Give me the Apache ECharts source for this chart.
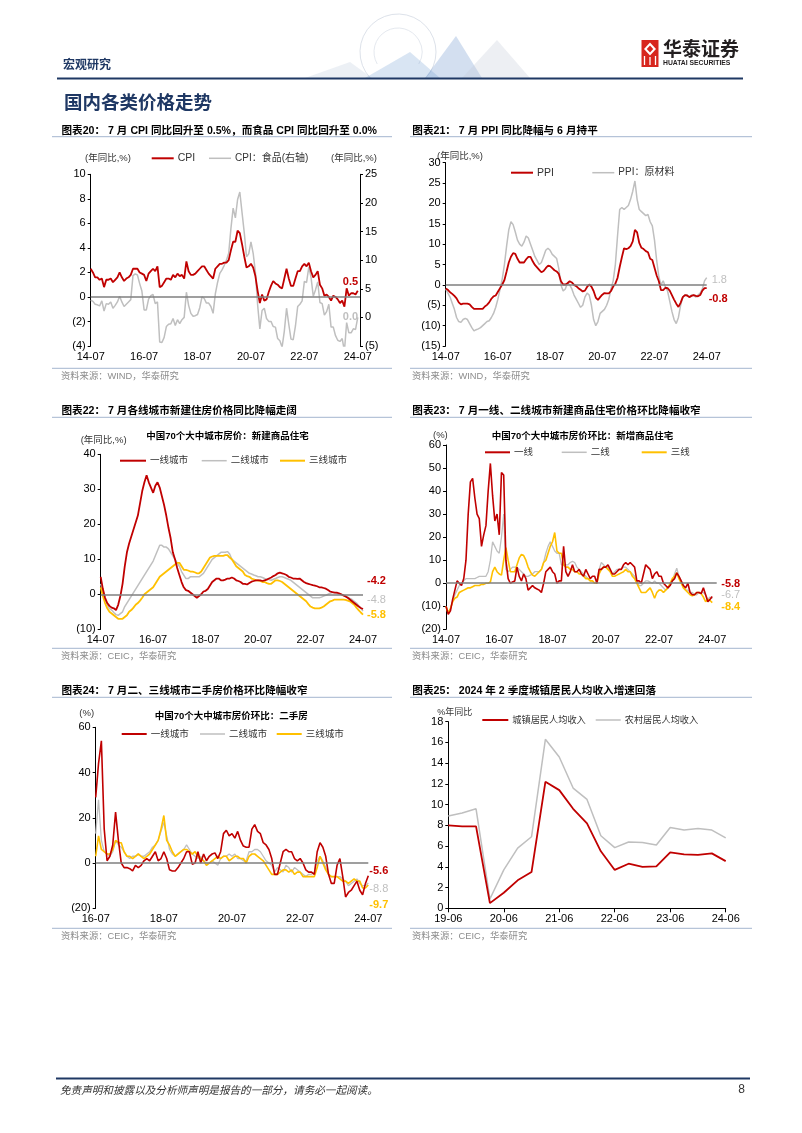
<!DOCTYPE html>
<html><head><meta charset="utf-8">
<script src="https://cdn.jsdelivr.net/npm/echarts@6/dist/echarts.min.js"></script>
<style>html,body{margin:0;padding:0;background:#fff}#c{width:802px;height:1133px}</style>
</head><body><div id="c"></div>
<script>
// ===== DATA =====
// Chart 20: CPI yoy (left) and food CPI yoy (right), 2014-07 .. 2024-07
const cpi = [
2.3,2.0,1.6,1.6,1.4,1.5,
0.8,1.4,1.4,1.5,1.2,1.4,1.6,2.0,1.6,1.3,1.5,1.6,
1.8,2.3,2.3,2.3,2.0,1.9,1.8,1.3,1.9,2.1,2.3,2.1,
2.5,0.8,0.9,1.2,1.5,1.5,1.4,1.8,1.6,1.9,1.7,1.8,
1.5,2.9,2.1,1.8,1.8,1.9,2.1,2.3,2.5,2.5,2.2,1.9,
1.7,1.5,2.3,2.5,2.7,2.7,2.8,2.8,3.0,3.8,4.5,4.5,
5.4,5.2,4.3,3.3,2.4,2.5,2.7,2.4,1.7,0.5,-0.5,0.2,
-0.3,-0.2,0.4,0.9,1.3,1.1,1.0,0.8,0.7,1.5,2.3,1.5,
0.9,0.9,1.5,2.1,2.1,2.5,2.7,2.5,2.8,2.1,1.6,1.8,
2.1,1.0,0.7,0.1,0.2,0.0,-0.3,0.1,0.0,-0.2,-0.5,-0.3,
-0.8,0.7,0.1,0.3,0.3,0.2,0.5];
const cpiFood = [
3.0,2.8,2.3,2.2,2.0,2.9,
1.1,2.4,2.3,2.7,1.6,2.1,2.7,3.7,2.7,1.9,2.3,2.7,
3.1,7.3,7.6,7.4,5.9,4.6,1.3,1.3,3.2,3.8,4.0,2.4,
2.7,-4.3,-4.4,-3.5,-1.6,-1.2,-1.1,-0.2,-1.4,-0.4,-1.1,-0.4,
0.0,4.4,2.1,0.7,0.2,0.3,0.5,1.7,3.6,3.3,2.5,2.5,
1.9,0.7,4.1,6.1,7.7,8.3,9.1,10.0,11.2,15.5,19.1,17.4,
20.6,21.9,18.3,14.8,10.6,11.1,13.2,11.2,7.9,2.2,-2.0,1.2,
1.6,-0.2,-0.7,-0.7,-1.6,-1.7,-3.7,-4.1,-5.2,-2.4,1.6,-1.2,
-3.8,-3.9,-1.5,1.9,2.3,2.9,6.3,6.1,8.8,7.0,3.7,4.8,
6.2,2.6,2.4,0.4,1.0,2.3,-1.7,-1.7,-3.2,-4.0,-4.2,-3.7,
-5.9,-0.9,-2.7,-2.7,-2.0,-2.1,0.0];

// Chart 21: PPI yoy and PPI raw materials yoy, 2014-07 .. 2024-07
const ppi = [
-0.9,-1.2,-1.8,-2.2,-2.7,-3.3,
-4.3,-4.8,-4.6,-4.6,-4.6,-4.8,-5.4,-5.9,-5.9,-5.9,-5.9,-5.9,
-5.3,-4.9,-4.3,-3.4,-2.8,-2.6,-1.7,-0.8,0.1,1.2,3.3,5.5,
6.9,7.8,7.6,6.4,5.5,5.5,5.5,6.3,6.9,6.9,5.8,4.9,
4.3,3.7,3.1,3.4,4.1,4.7,4.6,4.1,3.6,3.3,2.7,0.9,
0.1,0.1,0.4,0.9,0.6,0.0,-0.3,-0.8,-1.2,-1.6,-1.4,-0.5,
0.1,-0.4,-1.5,-3.1,-3.7,-3.0,-2.4,-2.0,-2.1,-2.1,-1.5,-0.4,
0.3,1.7,4.4,6.8,9.0,8.8,9.0,9.5,10.7,13.5,12.9,10.3,
9.1,8.8,8.3,8.0,6.4,6.1,4.2,2.3,0.9,-1.3,-1.3,-0.7,
-0.8,-1.4,-2.5,-3.6,-4.6,-5.4,-4.4,-3.0,-2.5,-2.6,-3.0,-2.7,
-2.5,-2.7,-2.8,-2.5,-1.4,-0.8,-0.8];
const ppiRaw = [
-1.0,-2.0,-3.0,-4.5,-6.0,-8.0,
-9.0,-9.2,-8.5,-8.2,-8.5,-9.5,-10.5,-11.3,-11.0,-10.8,-10.5,-10.0,
-9.5,-9.0,-8.8,-8.0,-7.0,-5.5,-3.5,-1.0,1.5,5.0,9.5,13.5,
15.5,14.8,13.0,11.0,10.0,9.5,10.5,12.0,11.5,10.0,8.5,7.0,
6.0,5.0,5.5,7.0,8.5,9.0,8.5,7.5,7.0,6.5,4.0,0.0,
-1.5,-1.0,0.5,0.0,-1.0,-2.5,-3.5,-4.5,-5.5,-5.0,-3.0,-2.0,
-2.5,-5.0,-8.5,-10.0,-9.0,-7.0,-6.5,-6.0,-5.0,-3.5,-1.0,1.0,
5.0,12.0,18.5,19.0,18.5,19.0,19.5,21.0,23.0,25.5,21.0,18.5,
18.0,17.5,17.0,17.3,15.5,14.5,11.0,6.0,2.0,0.0,1.0,-0.5,
-1.5,-4.0,-6.5,-8.5,-9.5,-8.0,-5.0,-3.0,-2.5,-2.5,-3.0,-2.5,
-2.5,-3.0,-2.5,-2.0,-1.0,1.0,1.8];

// Chart 22: new home price yoy by tier, 2014-07 .. 2024-07
const newTier1 = [
5.0,1.5,-1.0,-2.5,-3.3,-3.8,
-4.0,-4.5,-3.0,-0.5,3.0,8.0,12.0,14.5,16.5,18.5,20.5,22.5,
26.0,29.5,32.0,34.0,32.0,30.5,29.0,31.0,32.0,30.5,28.0,25.5,
22.5,19.0,16.0,12.0,10.0,7.5,5.5,3.5,2.0,1.2,1.0,0.5,
0.0,-0.5,-1.0,-0.5,0.0,0.8,1.0,1.5,2.5,3.5,4.0,4.5,
4.5,4.0,4.0,4.2,4.5,4.5,4.8,4.5,4.0,3.8,3.5,3.0,
3.0,2.8,3.2,3.6,3.8,4.0,4.0,4.0,3.8,4.0,4.2,4.5,
4.8,5.2,5.5,6.0,6.2,6.0,5.8,5.5,5.0,4.8,4.5,4.5,
4.4,4.5,4.0,3.5,3.2,3.0,2.8,2.6,2.5,2.3,2.0,2.0,
1.8,1.6,1.2,0.8,0.6,0.5,0.5,0.3,0.0,-0.3,-0.6,-1.0,
-1.5,-2.0,-2.5,-3.0,-3.5,-3.9,-4.2];
const newTier2 = [
3.0,0.5,-1.5,-3.0,-4.0,-4.5,
-5.2,-5.8,-6.0,-5.5,-5.0,-3.5,-2.5,-1.5,-0.5,0.5,1.5,2.5,
3.5,4.5,5.5,6.5,7.5,8.5,9.5,11.0,12.5,14.0,14.0,13.5,
13.5,13.0,12.0,11.0,10.0,9.0,8.0,6.5,5.5,4.5,4.5,5.0,
5.0,5.0,5.0,5.0,5.5,6.0,7.0,8.0,9.0,10.0,10.5,11.0,
11.5,12.0,12.0,12.0,12.2,11.5,10.0,9.5,9.0,8.5,8.0,7.5,
7.0,6.5,6.0,5.8,5.5,5.3,5.0,5.0,4.8,4.5,4.3,4.2,
4.0,4.3,4.5,4.8,5.0,5.0,4.8,4.5,4.3,4.0,3.5,3.0,
2.5,2.0,1.5,1.0,0.5,0.0,-0.5,-1.0,-1.0,-1.0,-1.0,-0.8,
-0.5,-0.3,0.0,0.3,0.5,0.5,0.3,0.0,0.0,-0.3,-0.5,-0.8,
-1.2,-1.5,-2.0,-2.5,-3.2,-4.0,-4.8];
const newTier3 = [
2.0,-0.5,-2.5,-4.0,-5.0,-5.5,
-6.0,-6.5,-7.0,-7.0,-7.0,-6.5,-6.0,-5.0,-4.5,-3.8,-3.0,-2.5,
-1.8,-1.0,0.0,0.5,1.0,1.5,2.0,3.0,4.0,5.0,5.5,6.0,
6.5,7.0,7.5,8.0,8.5,9.0,9.0,8.0,7.0,7.0,6.8,6.5,
6.5,6.3,6.0,6.0,6.5,7.5,8.5,9.5,10.5,10.8,11.0,11.0,
11.0,11.0,11.0,11.2,11.2,10.5,10.0,9.0,8.0,7.5,7.0,6.5,
5.5,5.2,5.0,4.5,4.3,4.0,4.0,3.8,3.5,3.5,3.2,3.0,
3.0,3.5,4.0,4.0,3.8,3.5,3.0,2.5,2.0,1.5,1.0,0.5,
0.0,-0.5,-1.0,-1.5,-2.0,-2.8,-3.5,-3.8,-4.0,-4.0,-4.0,-3.8,
-3.5,-3.0,-2.5,-2.0,-1.8,-1.5,-1.5,-1.5,-1.5,-1.5,-1.6,-1.8,
-2.0,-2.5,-3.0,-3.8,-4.5,-5.2,-5.8];

// Chart 23: new home price mom (annualised), 2014-07 .. 2024-07
const momNew1 = [
-10,-13.5,-12,-7,-3,1,0,-1,2,10,
30,44,45.5,37,30,28,16,21,25,40,
52,38,27,30,21,48,47,10,2,0,
0.5,1,7,3,1,4,2,-3,-2,-1,
-2,-2.5,-3,-4,0,5,6,7,5,4,
0,1,1,16,5,3,5,8,5,5,
6,4,3,6,4,2,3,3,0,6,
6,7,7,8,6,4,4,5,6,6,
8,9,8,9,8,7,1,1,0,4,
8,7,6,2,4,5,3,3,0,-1,
-2,-1,1,2,4.5,3,1,-1,-2,0,
-4,-5,-5,-4,-4,-4.5,-2,-5,-8,-7,
-5.8];
const momNew2 = [
-10,-12.5,-11,-8,-5,-3,-1,0,1,2,
2,2,2,2,2.5,3,3,3,3,5,
10,18,16,14,13,20,30,6,5,6,
7,7,7,6,5,4,3,3,3.5,4,
5,5,5,6,9,13,16,18,16,14,
13,13,8,8,8,8,9,9.5,9,7,
6,5,4,3,2,1,1,0,0.5,6,
9,8,7,7,5,4,5,6,6,6,
7,7,6,5,4,3,1,-1,-1,0,
1,1,0.5,0,1,0,0,-1,-2,-3,
-2,-1,1,4,6.5,3,1,-2,-3,-3,
-4,-4,-5,-5,-4,-4,-4,-5,-7,-6,
-6.7];
const momNew3 = [
-10,-13,-11,-8,-6.5,-6,-4,-3.5,-3,-2.5,
-2,-2,-1.5,-1,-1,-1,-0.5,-0.5,0,0,
0.5,5,7,5,4,3.5,10,15.5,10,5,
5,5,8,11,12.5,12,10,7,5,3.5,
3,4,5,6,9,10,13,16,18,22,
14,13,13,8,7,7,6,6,5,5,
4,4,3,2,2,1,1,0,0,4,
6,7,7,6,5,3,3,3.5,4,4.5,
5,6,5,5,3,2,0,-2,-4,-4,
-4,-3,-2,-4,-6.5,-4,-3,-3,-4,-3,
-2,0,2,3,4.5,2,0,-2,-3,-4,
-5,-5.5,-5,-4,-4,-4.5,-6,-8,-7,-7.5,
-8.4];

// Chart 24: second-hand home price mom (annualised), 2016-07 .. 2024-07
const momOld1 = [
29,44,54,15,1,3,8,22.5,10,0,
-2,-2,-2.5,-3.5,-1,-2,-1,1,2,1,
3,5,1,2,5,2,-3,-3.5,-3.5,-2,
0,2,5,5,-0.5,0,5,0,4,1,
3,4,4.5,2,5,13,14.5,12,13,11,
14,10,7.5,7,7,15,17,14,13,9,
8,6,2,-5,-5,0,5,6,5,5,
2,1,2,0,-3,-4,-4,-5,5,9,
7,3,-5,-9,-9,-1,2,-6,-15,-13,
-12,-10,-8,-12,-14,-9,-5.6];
const momOld2 = [
13,28,10,5,4,3,5,10,8,7,
5,3,2,3,3,4,3,3,4,5,
7,8,10,14,18,12,6,4,3,4,
5,6,8,6,4,3,2,3,1,0,
0,1,0,-1,2,3,3,4,3,4,
2,2,1,1,5,5,6,6,5,3,
1,0,-1,-4,-2,-3,-4,-1,-2,-4,
-2,-3,-4,-5,-6,-5,-5,-4,1,3,
1,-2,-5,-6,-6,-6,-6,-7,-8,-10,
-9,-8,-7,-9,-10,-10,-8.8];
const momOld3 = [
3,12,6,5,4,4,6,10,9,9,
5,3,3,2,3,4,3,2,3,4,
6,8,10,15,21,10,8,5,3,4,
5,6,6,5,4,5,3,2,1,-1,
0,1,2,3,2,3,3,1,2,3,
3,2,2,0,3,4,4,3,2,1,
-1,-3,-5,-5,-5,-4,-3,-3,-4,-3,
-5,-4,-4,-6,-6,-6,-6,-6,-2,3,
0,-3,-5,-6,-6,-6,-7,-8,-8,-9,
-8,-7,-8,-8,-11,-11,-9.7];

// Chart 25: per-capita disposable income yoy, quarterly 2019-06 .. 2024-06
const incomeUrban = [8.0,7.9,7.9,0.5,1.5,2.7,3.5,12.2,11.4,9.6,8.2,5.5,3.7,4.3,4.0,4.05,5.4,5.2,5.15,5.3,4.55];
const incomeRural = [8.9,9.2,9.6,0.9,3.7,5.8,6.9,16.3,14.6,11.6,10.5,7.0,5.85,6.4,6.35,6.1,7.8,7.55,7.7,7.55,6.8];

// Categories (month labels YY-MM)
function monthRange(y0, m0, y1, m1, step) {
  const out = []; let y = y0, m = m0;
  while (y < y1 || (y === y1 && m <= m1)) {
    out.push(String(y % 100).padStart(2, '0') + '-' + String(m).padStart(2, '0'));
    m += step; while (m > 12) { m -= 12; y++; }
  }
  return out;
}
const months20 = monthRange(2014, 7, 2024, 8, 1);   // one trailing empty month
const months21 = monthRange(2014, 7, 2024, 7, 1);
const months22 = monthRange(2014, 7, 2024, 7, 1);
const months23 = monthRange(2014, 7, 2024, 9, 1);   // two trailing empty months
const months24 = monthRange(2016, 7, 2024, 7, 1);
const quarters25 = monthRange(2019, 6, 2024, 6, 3);

// ===== BUILD =====
const FF = 'Arial, "Liberation Sans", "Noto Sans CJK SC", sans-serif';
const FC = '"Noto Sans CJK SC", Arial, sans-serif';
const RED = '#C00000', GRAY = '#BFBFBF', YEL = '#FFC000', ZERO = '#7F7F7F', NAVY = '#1F3864', RULE = '#A4B6CF';
const grids = [], xAxes = [], yAxes = [], series = [], legends = [], G = [];

function neg(v) { return v < 0 ? '(' + (-v) + ')' : String(v); }
function addGrid(l, t, w, h) { grids.push({ left: l, top: t, width: w, height: h, containLabel: false, outerBoundsMode: 'none' }); return grids.length - 1; }
function catAxis(gi, cats, every, extra) {
  xAxes.push(Object.assign({
    type: 'category', gridIndex: gi, data: cats, boundaryGap: false,
    axisLine: { show: false }, axisTick: { show: false },
    axisLabel: { interval: (i) => i % every === 0, color: '#000', fontSize: 11, fontFamily: FF, margin: 5 }
  }, extra || {}));
  return xAxes.length - 1;
}
function valAxis(gi, min, max, interval, pos) {
  yAxes.push({
    type: 'value', gridIndex: gi, min, max, interval, position: pos,
    axisLine: { show: true, lineStyle: { color: '#000', width: 1 } },
    axisTick: { show: true, length: 3, lineStyle: { color: '#000' } },
    splitLine: { show: false },
    axisLabel: { formatter: neg, color: '#000', fontSize: 11, fontFamily: FF, margin: 5 }
  });
  return yAxes.length - 1;
}
function endLbl(color, off, bold) {
  return { show: true, formatter: p => { const v = Array.isArray(p.value) ? p.value[1] : p.value; return Number(v).toFixed(1); },
    color, fontSize: 11, fontWeight: bold === false ? 'normal' : 'bold', fontFamily: FF, distance: 0, offset: off };
}
const zeroLine = { silent: true, symbol: 'none', label: { show: false }, lineStyle: { color: ZERO, width: 1.5, type: 'solid' }, data: [{ yAxis: 0 }], animation: false };
function line(name, xi, yi, data, color, width, z, extra) {
  series.push(Object.assign({ type: 'line', name, xAxisIndex: xi, yAxisIndex: yi, data, symbol: 'none', showSymbol: false,
    lineStyle: { color, width }, itemStyle: { color }, z, animation: false }, extra || {}));
}
function leg(name, left, cy, w, h, fs) {
  legends.push({ data: [name], left, top: cy - 7, itemWidth: w, itemHeight: h, icon: 'rect', padding: 0, itemGap: 0, selectedMode: false,
    textStyle: { fontSize: fs || 9.5, color: '#333', fontFamily: FF, lineHeight: 14, padding: [0, 0, 0, -1] } });
}
function T(x, y, text, o) { G.push({ type: 'text', x, y, silent: true, style: Object.assign({ text, fill: '#000', fontSize: 10, fontFamily: FF, align: 'left', verticalAlign: 'middle' }, o || {}) }); }
function L(x1, y1, x2, y2, stroke, w) { G.push({ type: 'line', silent: true, shape: { x1, y1, x2, y2 }, style: { stroke, lineWidth: w } }); }

// ---- Chart 20 ----
{
  const g = addGrid(90.7, 174.3, 269.3, 171.7);
  const x = catAxis(g, months20, 24);
  const yl = valAxis(g, -4, 10, 2, 'left');
  const yr = valAxis(g, -5, 25, 5, 'right');
  line('CPI：食品(右轴)', x, yr, cpiFood, GRAY, 1.5, 2, { endLabel: endLbl(GRAY, [-15, 0]) });
  line('CPI', x, yl, cpi, RED, 1.8, 3, { endLabel: endLbl(RED, [-15, -9]), markLine: zeroLine });
  leg('CPI', 151.7, 158.3, 22, 2, 10.5);
  leg('CPI：食品(右轴)', 209, 158.3, 22, 1.5, 10);
  T(85, 158.3, '(年同比,%)', { fontSize: 9.5, fill: '#333' });
  T(331, 158.3, '(年同比,%)', { fontSize: 9.5, fill: '#333' });
}
// ---- Chart 21 ----
{
  const g = addGrid(445.7, 162.7, 261, 183.3);
  const x = catAxis(g, months21, 24);
  const y = valAxis(g, -15, 30, 5, 'left');
  line('PPI：原材料', x, y, ppiRaw, GRAY, 1.5, 2, { endLabel: endLbl(GRAY, [5, 2], false) });
  line('PPI', x, y, ppi, RED, 1.8, 3, { endLabel: endLbl(RED, [2, 11]), markLine: zeroLine });
  leg('PPI', 511, 172.7, 22, 2, 10.5);
  leg('PPI：原材料', 592.3, 172.7, 22, 1.5, 10);
  T(437, 156, '(年同比,%)', { fontSize: 9.5, fill: '#333' });
}
// ---- Chart 22 ----
{
  const g = addGrid(100.7, 454.3, 262.3, 175);
  const x = catAxis(g, months22, 24);
  const y = valAxis(g, -10, 40, 10, 'left');
  line('二线城市', x, y, newTier2, GRAY, 1.5, 2, { endLabel: endLbl(GRAY, [4, -11], false), markLine: zeroLine });
  line('三线城市', x, y, newTier3, YEL, 1.8, 3, { endLabel: endLbl(YEL, [4, 0]) });
  line('一线城市', x, y, newTier1, RED, 1.8, 4, { endLabel: endLbl(RED, [4, -28]) });
  leg('一线城市', 120, 460.7, 26, 2);
  leg('二线城市', 201.7, 460.7, 25, 1.5);
  leg('三线城市', 280, 460.7, 25, 2);
  T(80.7, 440.7, '(年同比,%)', { fontSize: 9.5, fill: '#333' });
  T(227.5, 436, '中国70个大中城市房价：新建商品住宅', { fontSize: 9.5, fontWeight: 'bold', align: 'center' });
}
// ---- Chart 23 ----
{
  const g = addGrid(446, 445, 270.7, 184.3);
  const x = catAxis(g, months23, 24);
  const y = valAxis(g, -20, 60, 10, 'left');
  line('二线', x, y, momNew2, GRAY, 1.3, 2, { endLabel: endLbl(GRAY, [9, -4], false), markLine: zeroLine });
  line('三线', x, y, momNew3, YEL, 1.6, 3, { endLabel: endLbl(YEL, [9, 4]) });
  line('一线', x, y, momNew1, RED, 1.6, 4, { endLabel: endLbl(RED, [9, -13]) });
  leg('一线', 485, 452.3, 25, 2);
  leg('二线', 561.7, 452.3, 25, 1.5);
  leg('三线', 641.7, 452.3, 25, 2);
  T(433, 435, '(%)', { fontSize: 9.5, fill: '#333' });
  T(582.5, 436, '中国70个大中城市房价环比：新增商品住宅', { fontSize: 9.5, fontWeight: 'bold', align: 'center' });
}
// ---- Chart 24 ----
{
  const g = addGrid(95.7, 727.3, 272.6, 181);
  const x = catAxis(g, months24, 24);
  const y = valAxis(g, -20, 60, 20, 'left');
  line('二线城市', x, y, momOld2, GRAY, 1.3, 2, { endLabel: endLbl(GRAY, [1, 6], false), markLine: zeroLine });
  line('三线城市', x, y, momOld3, YEL, 1.6, 3, { endLabel: endLbl(YEL, [1, 20]) });
  line('一线城市', x, y, momOld1, RED, 1.6, 4, { endLabel: endLbl(RED, [1, -5]) });
  leg('一线城市', 121.7, 734, 25, 2);
  leg('二线城市', 200, 734, 25, 1.5);
  leg('三线城市', 276.7, 734, 25, 2);
  T(79.3, 713, '(%)', { fontSize: 9.5, fill: '#333' });
  T(231.3, 716, '中国70个大中城市房价环比：二手房', { fontSize: 9.5, fontWeight: 'bold', align: 'center' });
}
// ---- Chart 25 ----
{
  const g = addGrid(448.3, 721.7, 277.4, 186.6);
  const x = catAxis(g, quarters25, 4, {
    axisLine: { show: true, lineStyle: { color: '#000', width: 1 } },
    axisTick: { show: true, interval: 3, length: 4, lineStyle: { color: '#000' } }
  });
  const y = valAxis(g, 0, 18, 2, 'left');
  line('农村居民人均收入', x, y, incomeRural, GRAY, 1.5, 2);
  line('城镇居民人均收入', x, y, incomeUrban, RED, 1.8, 3);
  leg('城镇居民人均收入', 482.3, 720, 26, 2, 9.2);
  leg('农村居民人均收入', 595.7, 720, 25, 1.5, 9.2);
  T(437.3, 712.5, '%年同比', { fontSize: 9, fill: '#333' });
}

// ---- Page furniture ----
// header decoration
G.push({ type: 'arc', silent: true, shape: { cx: 398, cy: 52, r: 38, startAngle: 137 * Math.PI / 180, endAngle: 403 * Math.PI / 180, clockwise: true }, style: { stroke: '#dde2ea', lineWidth: 1, fill: null } });
G.push({ type: 'arc', silent: true, shape: { cx: 398, cy: 52, r: 24, startAngle: 150 * Math.PI / 180, endAngle: 390 * Math.PI / 180, clockwise: true }, style: { stroke: '#e5e9ef', lineWidth: 1, fill: null } });
G.push({ type: 'polygon', silent: true, shape: { points: [[305, 78], [350, 62], [372, 78]] }, style: { fill: 'rgba(180,195,215,0.25)' } });
G.push({ type: 'polygon', silent: true, shape: { points: [[365, 78], [410, 52], [440, 78]] }, style: { fill: 'rgba(130,170,215,0.3)' } });
G.push({ type: 'polygon', silent: true, shape: { points: [[425, 78], [456, 36], [482, 78]] }, style: { fill: 'rgba(110,150,205,0.3)' } });
G.push({ type: 'polygon', silent: true, shape: { points: [[462, 78], [497, 40], [530, 78]] }, style: { fill: 'rgba(195,203,214,0.3)' } });
// logo
G.push({ type: 'rect', silent: true, shape: { x: 641.5, y: 40, width: 17, height: 27 }, style: { fill: '#D7261E' } });
G.push({ type: 'polygon', silent: true, shape: { points: [[650, 42.5], [656, 49], [650, 55.5], [644, 49]] }, style: { fill: '#fff' } });
G.push({ type: 'polygon', silent: true, shape: { points: [[650, 45.5], [653.2, 49], [650, 52.5], [646.8, 49]] }, style: { fill: '#D7261E' } });
L(644.5, 56, 644.5, 65, '#fff', 1.3); L(650, 57, 650, 65, '#fff', 1.3); L(655.5, 56, 655.5, 65, '#fff', 1.3);
T(663, 48.5, '华泰证券', { fontSize: 19, fontWeight: 'bold', fill: '#231F20', fontFamily: FC });
T(663, 63.3, 'HUATAI SECURITIES', { fontSize: 6.8, fontWeight: 'bold', fill: '#231F20' });

T(63, 64.5, '宏观研究', { fontSize: 12, fontWeight: 'bold', fill: NAVY, fontFamily: FC });
L(57, 78.5, 743, 78.5, NAVY, 2);
T(64, 102, '国内各类价格走势', { fontSize: 18.5, fontWeight: 'bold', fill: NAVY, fontFamily: FC });

// chart titles
const TS = { fontSize: 10.6, fontWeight: 'bold' };
T(61.5, 130.7, '图表20： 7 月 CPI 同比回升至 0.5%，而食品 CPI 同比回升至 0.0%', TS);
T(412.3, 130.7, '图表21： 7 月 PPI 同比降幅与 6 月持平', TS);
T(61.5, 410.7, '图表22： 7 月各线城市新建住房价格同比降幅走阔', TS);
T(412.3, 410.7, '图表23： 7 月一线、二线城市新建商品住宅价格环比降幅收窄', TS);
T(61.5, 690.7, '图表24： 7 月二、三线城市二手房价格环比降幅收窄', TS);
T(412.3, 690.7, '图表25： 2024 年 2 季度城镇居民人均收入增速回落', TS);
// rules under titles and above sources
[136.7, 417.3, 697.3, 368.3, 648.3, 928.3].forEach(yy => { L(52, yy, 392, yy, RULE, 1); L(410, yy, 752, yy, RULE, 1); });
// sources
const SS = { fontSize: 9.3, fill: '#8C8C8C' };
T(61, 376.7, '资料来源：WIND，华泰研究', SS);
T(412, 376.7, '资料来源：WIND，华泰研究', SS);
T(61, 656.7, '资料来源：CEIC，华泰研究', SS);
T(412, 656.7, '资料来源：CEIC，华泰研究', SS);
T(61, 936.7, '资料来源：CEIC，华泰研究', SS);
T(412, 936.7, '资料来源：CEIC，华泰研究', SS);
// footer
L(56, 1078.5, 750, 1078.5, NAVY, 2);
T(60, 1090, '免责声明和披露以及分析师声明是报告的一部分，请务必一起阅读。', { fontSize: 10.6, fontStyle: 'italic', fill: '#333', fontFamily: FC });
T(745, 1090, '8', { fontSize: 12, align: 'right', fill: '#333' });

const chart = echarts.init(document.getElementById('c'), null, { renderer: 'canvas', width: 802, height: 1133 });
chart.setOption({
  animation: false, backgroundColor: '#fff', textStyle: { fontFamily: FF },
  grid: grids, xAxis: xAxes, yAxis: yAxes, series, legend: legends,
  graphic: { elements: G }
});
</script></body></html>
